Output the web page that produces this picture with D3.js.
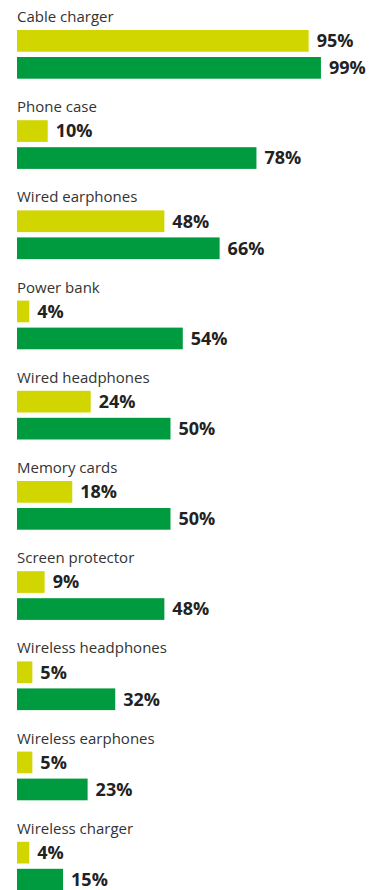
<!DOCTYPE html>
<html>
<head>
<meta charset="utf-8">
<script src="https://cdn.jsdelivr.net/npm/d3@7"></script>
<style>
  html, body { margin: 0; padding: 0; background: #fff; }
  svg { display: block; }
</style>
</head>
<body>
<svg id="chart" width="383" height="890"></svg>
<script>
// Accessories and shares for the two series
const categories = [
  "Cable charger", "Phone case", "Wired earphones", "Power bank",
  "Wired headphones", "Memory cards", "Screen protector",
  "Wireless headphones", "Wireless earphones", "Wireless charger"
];
const seriesA = [95, 10, 48, 4, 24, 18, 9, 5, 5, 4];
const seriesB = [99, 78, 66, 54, 50, 50, 48, 32, 23, 15];
const seriesColors = ["#d1d500", "#009b3e"];

const svg = d3.select("#chart");

const x = d3.scaleLinear().domain([0, 100]).range([17, 324]);
const groupY = d3.scaleBand()
  .domain(categories)
  .range([30, 30 + 90.2 * categories.length])
  .paddingInner(0)
  .paddingOuter(0);

const barH = 21.7;
const barGap = 27;

const groups = svg.selectAll("g.group")
  .data(categories.map((c, i) => ({ c, a: seriesA[i], b: seriesB[i] })))
  .join("g")
  .attr("class", "group")
  .attr("transform", d => `translate(0,${groupY(d.c)})`);

groups.append("text")
  .attr("x", x(0))
  .attr("y", -8)
  .attr("font-family", "'Open Sans', sans-serif")
  .attr("font-size", 15)
  .attr("fill", "#333")
  .text(d => d.c);

[["a", 0], ["b", 1]].forEach(([key, k]) => {
  groups.append("rect")
    .attr("x", x(0))
    .attr("y", k * barGap)
    .attr("width", d => x(d[key]) - x(0))
    .attr("height", barH)
    .attr("fill", seriesColors[k]);

  groups.append("text")
    .attr("x", d => x(d[key]) + 8)
    .attr("y", k * barGap + barH / 2 + 6.4)
    .attr("font-family", "'Open Sans', sans-serif")
    .attr("font-weight", 700)
    .attr("font-size", 18)
    .attr("fill", "#222")
    .text(d => d[key] + "%");
});
</script>
</body>
</html>
